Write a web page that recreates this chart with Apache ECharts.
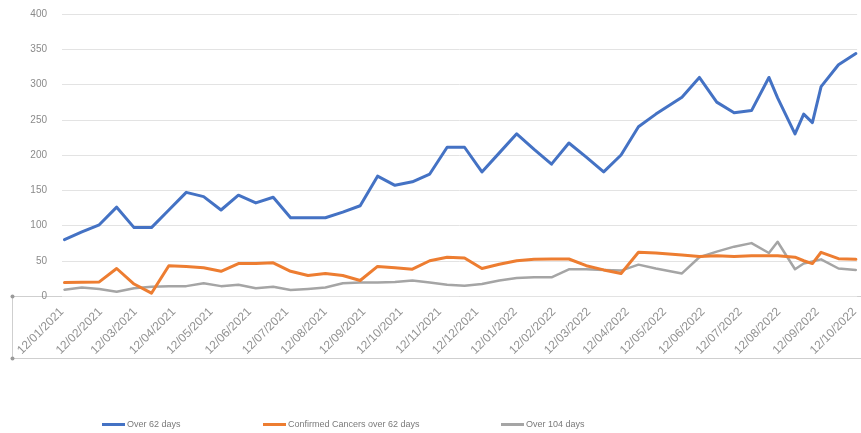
<!DOCTYPE html>
<html>
<head>
<meta charset="utf-8">
<script src="https://cdn.jsdelivr.net/npm/echarts@6/dist/echarts.min.js"></script>
<style>
  html, body { margin: 0; padding: 0; background: #ffffff; }
  #chart { width: 861px; height: 433px; }
</style>
</head>
<body>
<div id="chart"></div>
<script>
// ---- data ----
const dates = [
  '2021-01-14','2021-01-28','2021-02-11','2021-02-25','2021-03-11','2021-03-25',
  '2021-04-08','2021-04-22','2021-05-06','2021-05-20','2021-06-03','2021-06-17',
  '2021-07-01','2021-07-15','2021-07-29','2021-08-12','2021-08-26','2021-09-09',
  '2021-09-23','2021-10-07','2021-10-21','2021-11-04','2021-11-18','2021-12-02',
  '2021-12-16','2021-12-30','2022-01-13','2022-01-27','2022-02-10','2022-02-24',
  '2022-03-10','2022-03-24','2022-04-07','2022-04-21','2022-05-05','2022-05-26',
  '2022-06-09','2022-06-23','2022-07-07','2022-07-21','2022-08-04','2022-08-11',
  '2022-08-25','2022-09-01','2022-09-08','2022-09-15','2022-09-29','2022-10-13'
];
const over62Days = [
  80, 91, 101, 126, 97, 97,
  122, 147, 141, 122, 143, 132,
  140, 111, 111, 111, 119, 128,
  170, 157, 162, 173, 211, 211,
  176, 203, 230, 208, 187, 217,
  197, 176, 200, 240, 258, 282,
  310, 275, 260, 263, 310, 281,
  230, 258, 246, 297, 328, 344
];
const confirmedCancersOver62 = [
  19, 19.5, 20, 39, 17, 4,
  43, 42, 40, 35, 46, 46,
  47, 35, 29, 32, 29, 22,
  42, 40, 38, 50, 55, 54,
  39, 45, 50, 52, 52.5, 52.5,
  43, 37, 32, 62, 61, 58,
  56, 57, 56, 57, 57, 57,
  55, 50, 46, 62, 53, 52
];
const over104Days = [
  9, 12, 10, 6, 11, 13,
  14, 14, 18, 14, 16, 11,
  13, 8.5, 10, 12, 18, 19,
  19, 20, 22, 19, 16, 14.5,
  17, 22, 25.5, 26.5, 26.5, 37.8,
  38, 37, 36, 44.5, 39, 32,
  55, 63, 70, 75, 61, 77,
  38, 46, 49, 52, 39, 37
];
const xTickLabels = [
  '12/01/2021','12/02/2021','12/03/2021','12/04/2021','12/05/2021','12/06/2021',
  '12/07/2021','12/08/2021','12/09/2021','12/10/2021','12/11/2021','12/12/2021',
  '12/01/2022','12/02/2022','12/03/2022','12/04/2022','12/05/2022','12/06/2022',
  '12/07/2022','12/08/2022','12/09/2022','12/10/2022'
];
const seriesNames = ['Over 62 days', 'Confirmed Cancers over 62 days', 'Over 104 days'];
const yTicks = { min: 0, max: 400, interval: 50 };

// ---- helpers ----
const DAY = 86400000;
function parseISO(s) {
  const p = s.split('-');
  return Date.UTC(+p[0], +p[1] - 1, +p[2]);
}
function parseDMY(s) {
  const p = s.split('/');
  return Date.UTC(+p[2], +p[1] - 1, +p[0]);
}
const tickValues = xTickLabels.map(parseDMY);
const labelByValue = {};
xTickLabels.forEach((s, i) => { labelByValue[tickValues[i]] = s; });
const pair = arr => dates.map((d, i) => [parseISO(d), arr[i]]);

const colors = ['#4472C4', '#ED7D31', '#A5A5A5'];
const fontFamily = '"Liberation Sans", Arial, sans-serif';

const chart = echarts.init(document.getElementById('chart'), null, { renderer: 'canvas' });

function legendFor(i, left) {
  return {
    data: [seriesNames[i]],
    left: left,
    top: 420,
    icon: 'rect',
    itemWidth: 23,
    itemHeight: 3,
    itemGap: 0,
    padding: 0,
    textStyle: { fontSize: 9, color: '#7a7a7a', fontFamily: fontFamily, padding: [0, 0, 0, -3] }
  };
}

chart.setOption({
  animation: false,
  backgroundColor: '#ffffff',
  color: colors,
  grid: { left: 62, right: 0, top: 14, bottom: 137, containLabel: false },
  legend: [legendFor(0, 102), legendFor(1, 263), legendFor(2, 501)],
  xAxis: {
    type: 'value',
    min: parseDMY('12/01/2021'),
    max: parseDMY('12/01/2021') + 640 * DAY,
    axisLine: { show: false },
    axisTick: { show: false },
    splitLine: { show: false },
    axisLabel: {
      customValues: tickValues,
      formatter: v => labelByValue[v] || '',
      rotate: 45,
      margin: 14,
      fontSize: 12,
      color: '#939393',
      fontFamily: fontFamily,
      hideOverlap: false,
      showMinLabel: true,
      showMaxLabel: true
    }
  },
  yAxis: {
    type: 'value',
    min: yTicks.min,
    max: yTicks.max,
    interval: yTicks.interval,
    axisLine: { show: false },
    axisTick: { show: false },
    splitLine: { lineStyle: { color: '#e3e3e3', width: 1 } },
    axisLabel: { fontSize: 10, color: '#8a8a8a', fontFamily: fontFamily, margin: 15 }
  },
  graphic: [
    {
      type: 'rect',
      shape: { x: 12.5, y: 296.5, width: 860, height: 62 },
      style: { fill: 'none', stroke: '#cfcfcf', lineWidth: 1 },
      silent: true, z: 0
    },
    { type: 'circle', shape: { cx: 12.5, cy: 296.5, r: 2 }, style: { fill: '#9a9a9a' }, silent: true },
    { type: 'circle', shape: { cx: 12.5, cy: 358.5, r: 2 }, style: { fill: '#9a9a9a' }, silent: true }
  ],
  series: [
    {
      name: seriesNames[0], type: 'line', data: pair(over62Days),
      symbol: 'none', lineStyle: { width: 3, color: colors[0], join: 'round', cap: 'round' }, z: 3
    },
    {
      name: seriesNames[1], type: 'line', data: pair(confirmedCancersOver62),
      symbol: 'none', lineStyle: { width: 3, color: colors[1], join: 'round', cap: 'round' }, z: 2
    },
    {
      name: seriesNames[2], type: 'line', data: pair(over104Days),
      symbol: 'none', lineStyle: { width: 2.5, color: colors[2], join: 'round', cap: 'round' }, z: 1
    }
  ]
});
</script>
</body>
</html>
